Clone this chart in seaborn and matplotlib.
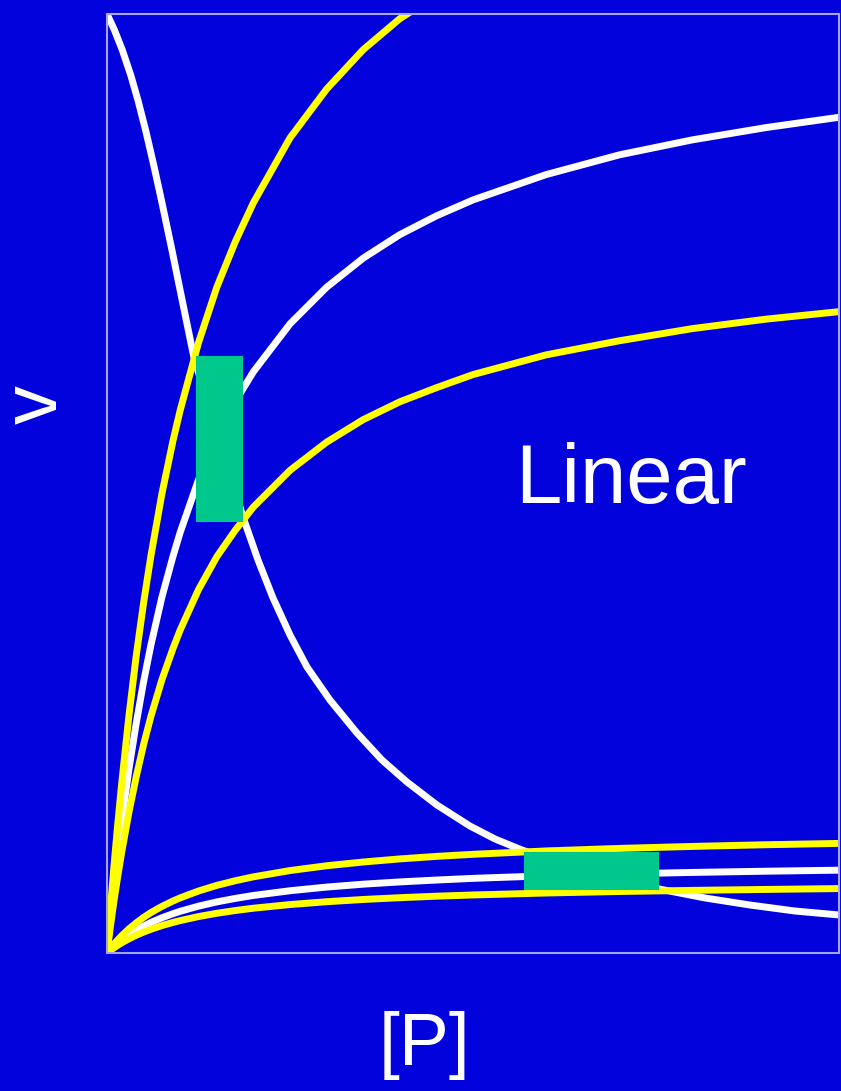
import matplotlib
matplotlib.use("Agg")
import matplotlib.pyplot as plt
import seaborn as sns
from matplotlib.patches import Rectangle

# ---------------- data ----------------
p_grid = [0, 0.02, 0.05, 0.1, 0.15, 0.2, 0.3, 0.4, 0.5, 0.6, 0.75, 0.9, 1.0, 1.25, 1.5,
          1.75, 2.0, 2.5, 3.0, 3.5, 4.0, 4.5, 5, 6, 7, 8, 9, 10]

# steep yellow curve (leaves the plot through the top)
p_steep = [0, 0.02, 0.05, 0.1, 0.15, 0.2, 0.3, 0.4, 0.5, 0.6, 0.75, 0.9, 1.0, 1.25, 1.5,
           1.75, 2.0, 2.5, 3.0, 3.5, 4.0, 4.5]
v_steep = [0, 0.21, 0.50, 0.97, 1.40, 1.80, 2.53, 3.17, 3.73, 4.23, 4.89, 5.45, 5.78, 6.50,
           7.09, 7.57, 7.99, 8.68, 9.20, 9.62, 9.95, 10.20]

# upper white / middle yellow hyperbolas
v_white_high = [0, 0.16, 0.39, 0.75, 1.09, 1.40, 1.96, 2.45, 2.89, 3.28, 3.79, 4.22, 4.48,
                5.04, 5.49, 5.87, 6.19, 6.70, 7.09, 7.40, 7.65, 7.85, 8.02, 8.29, 8.50,
                8.66, 8.79, 8.90]
v_yellow_mid = [0, 0.12, 0.30, 0.58, 0.83, 1.07, 1.50, 1.88, 2.22, 2.52, 2.91, 3.24, 3.44,
                3.87, 4.22, 4.50, 4.75, 5.14, 5.44, 5.68, 5.87, 6.02, 6.16, 6.37, 6.52,
                6.65, 6.75, 6.83]

# low band: yellow / white / yellow
v_low_upper = [0, 0.021, 0.051, 0.099, 0.142, 0.183, 0.257, 0.321, 0.379, 0.430, 0.496,
               0.553, 0.587, 0.660, 0.720, 0.769, 0.811, 0.878, 0.929, 0.969, 1.002, 1.029,
               1.051, 1.087, 1.114, 1.135, 1.153, 1.167]
v_low_mid = [0, 0.016, 0.039, 0.074, 0.108, 0.139, 0.194, 0.243, 0.286, 0.325, 0.375, 0.418,
             0.444, 0.499, 0.544, 0.581, 0.613, 0.663, 0.702, 0.733, 0.757, 0.777, 0.795,
             0.822, 0.842, 0.858, 0.871, 0.882]
v_low_lower = [0, 0.012, 0.030, 0.058, 0.084, 0.108, 0.151, 0.189, 0.223, 0.252, 0.292,
               0.325, 0.345, 0.388, 0.423, 0.452, 0.477, 0.516, 0.546, 0.570, 0.589, 0.605,
               0.618, 0.639, 0.655, 0.667, 0.677, 0.686]

# decreasing white curve
p_decline = [0, 0.101, 0.209, 0.324, 0.422, 0.527, 0.638, 0.743, 0.887, 1.018, 1.189,
             1.544, 1.872, 2.063, 2.268, 2.500, 2.732, 3.046, 3.415, 3.757, 4.098, 4.508,
             4.959, 5.301, 5.669, 6.189, 6.872, 7.541, 8.169, 8.784, 9.399, 10.0]
v_decline = [10.0, 9.830, 9.617, 9.350, 9.084, 8.765, 8.392, 8.019, 7.487, 6.986, 6.337,
             5.431, 4.611, 4.185, 3.781, 3.387, 3.046, 2.694, 2.343, 2.055, 1.821, 1.576,
             1.352, 1.214, 1.097, 0.958, 0.809, 0.682, 0.586, 0.511, 0.447, 0.405]

# highlighted ranges (green boxes)
box_p_low = [1.22, 5.70]
box_p_high = [1.86, 7.54]
box_v_low = [4.59, 0.67]
box_v_high = [6.36, 1.08]

annotation = "Linear"
x_label = "[P]"
y_label = "v"

# ---------------- style ----------------
BG = "#0202DC"
FRAME = "#A4A4FF"
YELLOW = "#FFFF00"
WHITE = "#FFFFFF"
GREEN = "#00C88C"

sns.set_theme(style="white")
plt.rcParams["font.family"] = ["Liberation Sans", "DejaVu Sans"]

fig = plt.figure(figsize=(8.41, 10.91), dpi=100, facecolor=BG)
ax = fig.add_axes([107 / 841, (1091 - 953) / 1091, 732 / 841, 939 / 1091])
ax.set_facecolor(BG)

lw = 5.0
line_kw = dict(ax=ax, linewidth=lw, solid_capstyle="round", solid_joinstyle="round",
               estimator=None, sort=False)

sns.lineplot(x=p_decline, y=v_decline, color=WHITE, **line_kw)
sns.lineplot(x=p_grid, y=v_white_high, color=WHITE, **line_kw)
sns.lineplot(x=p_grid, y=v_low_mid, color=WHITE, **line_kw)
sns.lineplot(x=p_steep, y=v_steep, color=YELLOW, **line_kw)
sns.lineplot(x=p_grid, y=v_yellow_mid, color=YELLOW, **line_kw)
sns.lineplot(x=p_grid, y=v_low_upper, color=YELLOW, **line_kw)
sns.lineplot(x=p_grid, y=v_low_lower, color=YELLOW, **line_kw)

for x0, x1, y0, y1 in zip(box_p_low, box_p_high, box_v_low, box_v_high):
    ax.add_patch(Rectangle((x0, y0), x1 - x0, y1 - y0, facecolor=GREEN,
                           edgecolor="none", zorder=5))

ax.text(5.574, 4.79, annotation, color=WHITE, fontsize=60, ha="left", va="baseline",
        zorder=6)

ax.set_xlim(0, 10)
ax.set_ylim(0, 10)
ax.set_xticks([])
ax.set_yticks([])
for s in ax.spines.values():
    s.set_visible(True)
    s.set_color(FRAME)
    s.set_linewidth(1.5)
    s.set_zorder(7)

ax.set_xlabel(x_label, color=WHITE, fontsize=54, va="center", ha="center")
ax.xaxis.set_label_coords(0.434, -0.098)
ax.set_ylabel(y_label, color=WHITE, fontsize=56, va="center", ha="center")
ax.yaxis.set_label_coords(-0.096, 0.584)

fig.savefig("out.png", dpi=100, facecolor=BG)
